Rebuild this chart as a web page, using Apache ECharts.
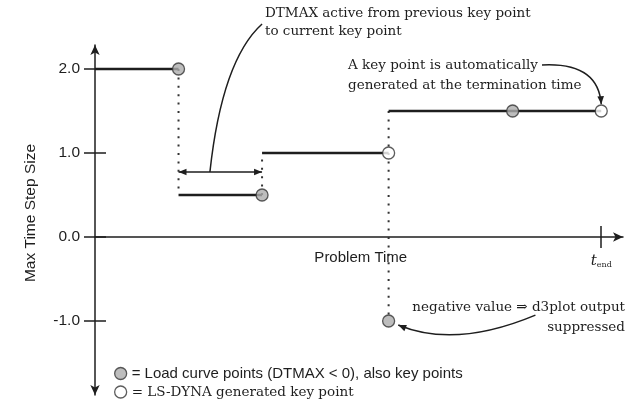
<!DOCTYPE html>
<html>
<head>
<meta charset="utf-8">
<script src="https://cdn.jsdelivr.net/npm/echarts@6/dist/echarts.min.js"></script>
<style>
  html, body { margin: 0; padding: 0; background: #fff; }
  #chart { width: 639px; height: 409px; }
</style>
</head>
<body>
<div id="chart"></div>
<script>
// time axis in arbitrary units, t_end = 10
const loadCurvePoints = [[1.65, 2.0], [3.3, 0.5], [5.8, -1.0], [8.25, 1.5]];
const generatedPoints = [[5.8, 1.0], [10, 1.5]];
const stepSegments = [
  [[0, 2.0], [1.65, 2.0]],
  [[1.65, 0.5], [3.3, 0.5]],
  [[3.3, 1.0], [5.8, 1.0]],
  [[5.8, 1.5], [10, 1.5]]
];
const dropLines = [
  [[1.65, 2.0], [1.65, 0.5]],
  [[3.3, 0.5], [3.3, 1.0]],
  [[5.8, 1.5], [5.8, -1.0]]
];
const yTicks = [-1, 0, 1, 2];
const xTicks = [10];
// labels sitting under the time axis: x, y, text
const timeAxisTexts = [
  [5.25, 0, 'Problem Time'],
  [10, 0, '{t|t}{s|end}']
];
// annotation lines: start x,y / control x,y / end x,y / arrow at start / arrow at end
const curves = [
  [1.65, 0.774, 2.475, 0.774, 3.3, 0.774, 1, 1],
  [2.27, 0.774, 2.51, 2.107, 3.30, 2.536, 0, 0],
  [8.83, 2.048, 9.94, 2.083, 10.0, 1.58, 0, 1],
  [8.70, -0.93, 7.115, -1.33, 5.99, -1.048, 0, 1]
];

const sans = '"Liberation Sans", Arial, sans-serif';
const serif = '"DejaVu Serif", serif';
const ink = '#1e1e1e';

const chart = echarts.init(document.getElementById('chart'));

function arrowHead(tip, from) {
  const dx = tip[0] - from[0], dy = tip[1] - from[1];
  const len = Math.hypot(dx, dy);
  const ux = dx / len, uy = dy / len;
  const L = 8, W = 3.3;
  const bx = tip[0] - ux * L, by = tip[1] - uy * L;
  return {
    type: 'polygon',
    shape: { points: [tip, [bx - uy * W, by + ux * W], [bx + uy * W, by - ux * W]] },
    style: { fill: ink }
  };
}

function renderCurve(params, api) {
  const p0 = api.coord([api.value(0), api.value(1)]);
  const c = api.coord([api.value(2), api.value(3)]);
  const p1 = api.coord([api.value(4), api.value(5)]);
  const children = [{
    type: 'bezierCurve',
    shape: { x1: p0[0], y1: p0[1], cpx1: c[0], cpy1: c[1], x2: p1[0], y2: p1[1] },
    style: { stroke: ink, lineWidth: 1.5, fill: null }
  }];
  if (api.value(6)) children.push(arrowHead(p0, c));
  if (api.value(7)) children.push(arrowHead(p1, c));
  return { type: 'group', children: children };
}

function renderAxisText(params, api) {
  const p = api.coord([api.value(0), api.value(1)]);
  const isName = params.dataIndex === 0;
  return {
    type: 'text',
    x: p[0], y: p[1] + (isName ? 21 : 24),
    style: {
      text: timeAxisTexts[params.dataIndex][2],
      fontFamily: sans, fontSize: 15, fill: ink,
      align: 'center', verticalAlign: 'middle',
      rich: {
        t: { fontFamily: serif, fontStyle: 'italic', fontSize: 15, fill: ink },
        s: { fontFamily: serif, fontSize: 8, fill: ink, padding: [7, 0, 0, 0] }
      }
    }
  };
}

function note(x, y, str, align) {
  return {
    type: 'text', x: x, y: y, silent: true,
    style: { text: str, fontFamily: serif, fontSize: 13.5, fill: ink, align: align, verticalAlign: 'middle' }
  };
}

const axisLineStyle = { color: ink, width: 1.5 };

const series = [];
stepSegments.forEach(seg => {
  series.push({
    type: 'line', data: seg, symbol: 'none', silent: true, z: 2,
    lineStyle: { color: ink, width: 2.5 }
  });
});
dropLines.forEach(seg => {
  series.push({
    type: 'line', data: seg, symbol: 'none', silent: true, z: 1,
    lineStyle: { color: '#333', width: 2, type: [2, 6.4] }
  });
});
series.push({
  type: 'custom', data: curves, renderItem: renderCurve, silent: true, z: 3,
  encode: { x: [0, 2, 4], y: [1, 3, 5] }
});
series.push({
  type: 'custom', data: timeAxisTexts.map(d => [d[0], d[1]]), renderItem: renderAxisText, silent: true, z: 3,
  encode: { x: 0, y: 1 }
});
series.push({
  name: 'Load curve points', type: 'scatter', data: loadCurvePoints, symbolSize: 12, z: 5,
  itemStyle: { color: '#acacac', borderColor: '#333', borderWidth: 1.3 }
});
series.push({
  name: 'LS-DYNA generated key point', type: 'scatter', data: generatedPoints, symbolSize: 12, z: 5,
  itemStyle: { color: '#fff', borderColor: '#333', borderWidth: 1.3 }
});

chart.setOption({
  animation: false,
  grid: { left: 95, right: 16, top: 45, bottom: 14, outerBoundsMode: 'none', containLabel: false },
  xAxis: [{
    type: 'value', min: 0, max: 10.43,
    axisLine: { show: true, onZero: true, symbol: ['none', 'arrow'], symbolSize: [7, 10], lineStyle: axisLineStyle },
    axisTick: { show: true, customValues: xTicks, length: 11, lineStyle: axisLineStyle },
    axisLabel: { show: false },
    splitLine: { show: false }
  }, {
    type: 'value', min: 0, max: 10.43, position: 'bottom',
    axisLine: { show: false, onZero: true },
    axisTick: { show: true, inside: true, customValues: xTicks, length: 11, lineStyle: axisLineStyle },
    axisLabel: { show: false },
    splitLine: { show: false }
  }],
  yAxis: [{
    type: 'value', min: -1.881, max: 2.286,
    axisLine: { show: true, symbol: ['arrow', 'arrow'], symbolSize: [7, 10], lineStyle: axisLineStyle },
    axisTick: { show: true, customValues: yTicks, length: 11, lineStyle: axisLineStyle },
    axisLabel: {
      customValues: yTicks, margin: 15, formatter: v => v.toFixed(1),
      fontFamily: sans, fontSize: 15.5, color: ink
    },
    splitLine: { show: false },
    name: 'Max Time Step Size', nameLocation: 'middle', nameRotate: 90, nameGap: 56,
    nameTextStyle: { fontFamily: sans, fontSize: 15.5, color: ink, padding: [0, 0, 0, 14] }
  }, {
    type: 'value', min: -1.881, max: 2.286, position: 'left',
    axisLine: { show: false },
    axisTick: { show: true, inside: true, customValues: yTicks, length: 11, lineStyle: axisLineStyle },
    axisLabel: { show: false },
    splitLine: { show: false }
  }],
  legend: {
    orient: 'vertical', left: 109, top: 361, itemWidth: 12, itemHeight: 12, itemGap: 4,
    icon: 'circle', selectedMode: false,
    data: [
      { name: 'Load curve points', itemStyle: { color: '#acacac', borderColor: '#333', borderWidth: 1.3 } },
      { name: 'LS-DYNA generated key point', itemStyle: { color: '#fff', borderColor: '#333', borderWidth: 1.3 } }
    ],
    formatter: name => name === 'Load curve points'
      ? '{s|= Load curve points (DTMAX < 0), also key points}'
      : '{r|= LS-DYNA generated key point}',
    textStyle: {
      rich: {
        s: { fontFamily: sans, fontSize: 15, color: ink },
        r: { fontFamily: serif, fontSize: 13.5, color: ink }
      }
    }
  },
  graphic: [
    note(265, 13, 'DTMAX active from previous key point', 'left'),
    note(265, 31, 'to current key point', 'left'),
    note(348, 65, 'A key point is automatically', 'left'),
    note(348, 85, 'generated at the termination time', 'left'),
    note(625, 307, 'negative value \u21D2 d3plot output', 'right'),
    note(625, 327, 'suppressed', 'right')
  ],
  series: series
});
</script>
</body>
</html>
